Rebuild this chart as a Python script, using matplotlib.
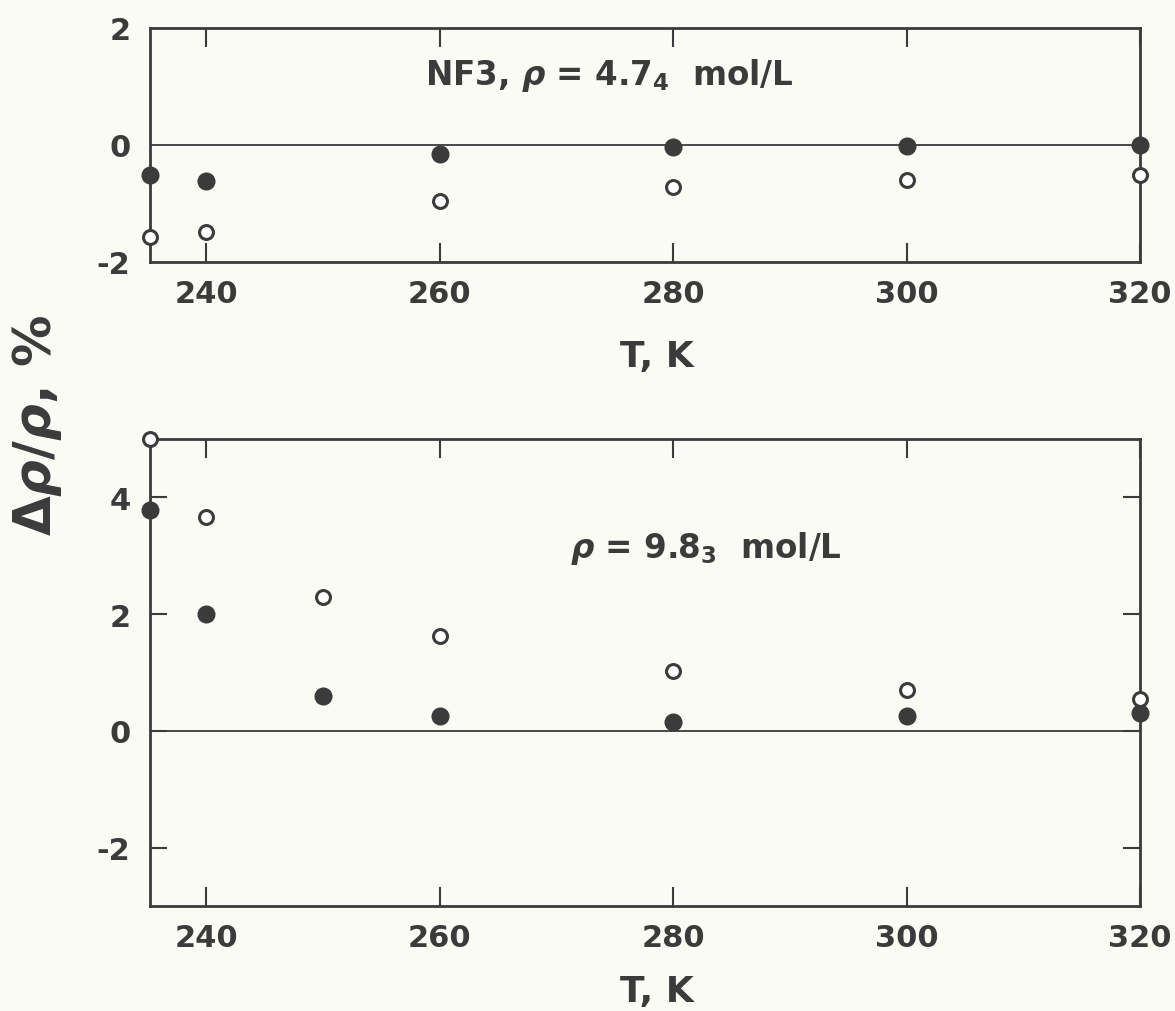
import numpy as np
import matplotlib
matplotlib.use('Agg')
import matplotlib.pyplot as plt

# данные
t_top = [235.2, 240, 260, 280, 300, 320]
top_filled = [-0.51, -0.61, -0.16, -0.04, -0.02, 0.0]
top_open = [-1.58, -1.49, -0.95, -0.72, -0.59, -0.52]

t_bot = [235.2, 240, 250, 260, 280, 300, 320]
bot_filled = [3.79, 2.0, 0.60, 0.25, 0.15, 0.25, 0.30]
bot_open = [5.0, 3.66, 2.29, 1.63, 1.02, 0.70, 0.55]

x_ticks = [240, 260, 280, 300, 320]
top_yticks = [-2, 0, 2]
bot_yticks = [-2, 0, 2, 4]

ink = '#3b3b3b'
bg = '#fbfbf6'

plt.rcParams['axes.unicode_minus'] = False
plt.rcParams['font.family'] = 'DejaVu Sans'
plt.rcParams['font.weight'] = 'bold'
plt.rcParams['axes.labelweight'] = 'bold'
plt.rcParams['mathtext.fontset'] = 'custom'
plt.rcParams['mathtext.rm'] = 'DejaVu Sans:bold'
plt.rcParams['mathtext.it'] = 'DejaVu Sans:bold:italic'
plt.rcParams['mathtext.bf'] = 'DejaVu Sans:bold'

fig = plt.figure(figsize=(11.75, 10.12), dpi=100, facecolor=bg)
W, H = 1175, 1012


def make_axes(top_px, bottom_px):
    ax = fig.add_axes([150 / W, 1 - bottom_px / H, (1140 - 150) / W, (bottom_px - top_px) / H])
    ax.set_facecolor(bg)
    for s in ax.spines.values():
        s.set_linewidth(2.0)
        s.set_color(ink)
    return ax


def draw_points(ax, t, filled, opened):
    ax.axhline(0, color=ink, lw=1.3, zorder=2)
    ax.plot(t, filled, 'o', ms=12, color=ink, mec=ink, clip_on=False, zorder=5)
    ax.plot(t, opened, 'o', ms=10, mfc='white', mec=ink, mew=2.2, clip_on=False, zorder=5)


def style_x(ax):
    ax.set_xlim(235.2, 320)
    ax.set_xticks(x_ticks)
    ax.tick_params(axis='x', direction='in', length=14, width=1.5, color=ink,
                   top=True, labelsize=22, labelcolor=ink, pad=12)
    ax.set_xlabel('T, K', fontsize=26, color=ink)


# верхняя панель
ax1 = make_axes(29, 263)
draw_points(ax1, t_top, top_filled, top_open)
style_x(ax1)
ax1.set_ylim(-2, 2)
ax1.set_yticks(top_yticks)
ax1.tick_params(axis='y', direction='in', length=0, labelsize=22, labelcolor=ink, pad=14)
ax1.xaxis.set_label_coords(0.512, -0.33)
ax1.text(0.278, 0.761, r'NF3, $\rho$ = 4.7$_\mathrm{4}$  mol/L', transform=ax1.transAxes,
         fontsize=23.5, color=ink, ha='left', va='baseline')

# нижняя панель
ax2 = make_axes(440, 907)
draw_points(ax2, t_bot, bot_filled, bot_open)
style_x(ax2)
ax2.set_ylim(-3, 5)
ax2.set_yticks(bot_yticks)
ax2.tick_params(axis='y', direction='in', length=12, width=1.5, color=ink,
                right=True, labelsize=22, labelcolor=ink, pad=14)
ax2.xaxis.set_label_coords(0.512, -0.145)
ax2.text(0.424, 0.747, r'$\rho$ = 9.8$_\mathrm{3}$  mol/L', transform=ax2.transAxes,
         fontsize=23.5, color=ink, ha='left', va='baseline')

fig.text(37 / W, 1 - 425 / H, r'$\mathrm{\Delta}\rho/\rho$, %', rotation=90,
         fontsize=37, color=ink, ha='center', va='center')

fig.savefig('out.png', dpi=100, facecolor=bg)
